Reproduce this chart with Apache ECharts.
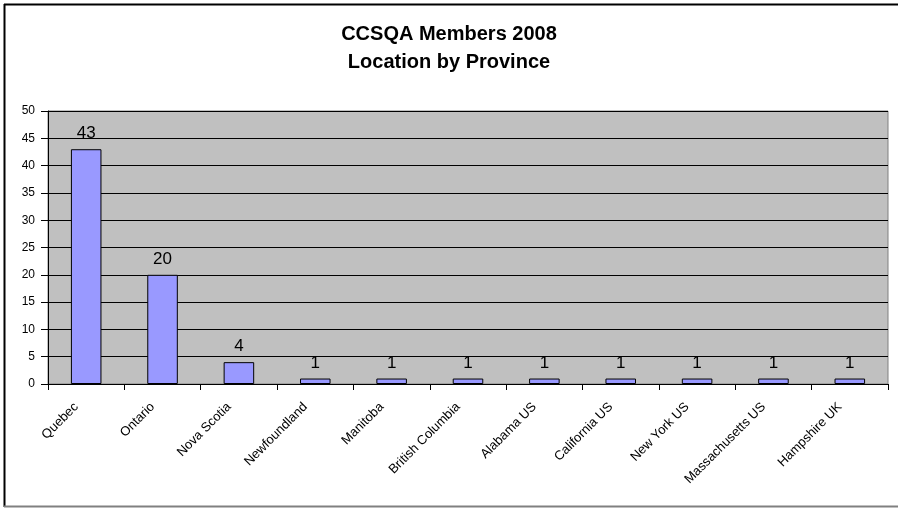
<!DOCTYPE html>
<html>
<head>
<meta charset="utf-8">
<script src="https://cdn.jsdelivr.net/npm/echarts@6/dist/echarts.min.js"></script>
<style>html,body{margin:0;padding:0;background:#fff;}#c{width:898px;height:508px;}</style>
</head>
<body>
<div id="c"></div>
<script>
const categories = ["Quebec","Ontario","Nova Scotia","Newfoundland","Manitoba","British Columbia","Alabama US","California US","New York US","Massachusetts US","Hampshire UK"];
const members = [43,20,4,1,1,1,1,1,1,1,1];
const titleLines = ["CCSQA Members 2008","Location by Province"];

const FONT = 'Liberation Sans, Arial, sans-serif';
const chart = echarts.init(document.getElementById('c'), null, {renderer:'canvas'});
chart.setOption({
  animation:false,
  backgroundColor:'#ffffff',
  title:{
    text: titleLines.join('\n'),
    left:'center', top:15,
    textStyle:{fontFamily:FONT, fontWeight:'bold', fontSize:20, lineHeight:28, color:'#000'}
  },
  graphic:[
    {type:'line', silent:true, shape:{x1:4, y1:4.5, x2:898, y2:4.5}, style:{stroke:'#000', lineWidth:2}},
    {type:'line', silent:true, shape:{x1:4.5, y1:4, x2:4.5, y2:507}, style:{stroke:'#000', lineWidth:2}},
    {type:'line', silent:true, shape:{x1:4, y1:506.5, x2:898, y2:506.5}, style:{stroke:'#808080', lineWidth:2}}
  ],
  grid:{left:48, right:10, top:111, bottom:124, show:true, backgroundColor:'#C0C0C0', borderColor:'#808080', borderWidth:1},
  xAxis:{
    type:'category', data:categories,
    axisLine:{lineStyle:{color:'#000', width:1}},
    axisTick:{show:true, length:6, alignWithLabel:false, lineStyle:{color:'#000'}},
    axisLabel:{rotate:45, interval:0, margin:11, padding:[0,14,0,0], fontFamily:FONT, fontSize:13, color:'#000'}
  },
  yAxis:{
    type:'value', min:0, max:50, interval:5,
    axisLine:{show:true, lineStyle:{color:'#000'}},
    axisTick:{show:true, length:7, lineStyle:{color:'#000'}},
    splitLine:{show:true, lineStyle:{color:'#000', width:1}},
    axisLabel:{fontFamily:FONT, fontSize:12, color:'#000', margin:13}
  },
  series:[{
    type:'bar', data:members, barWidth:'40%',
    itemStyle:{color:'#9999FF', borderColor:'#000', borderWidth:1},
    label:{show:true, position:'top', distance:7, fontFamily:FONT, fontSize:17, color:'#000'}
  }]
});
</script>
</body>
</html>
